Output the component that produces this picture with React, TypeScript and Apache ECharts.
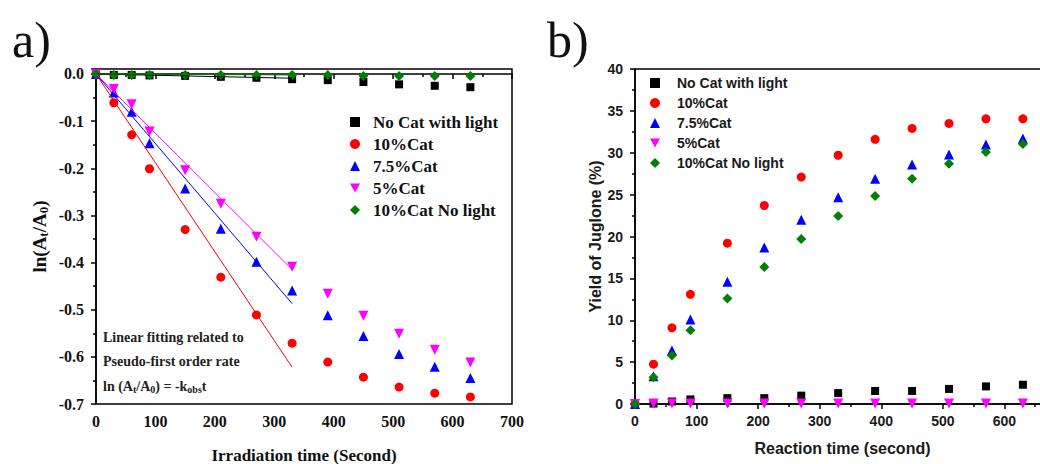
import React, { useEffect, useRef } from "react";
import * as echarts from "echarts";

// ---- Data ----
const times = [0, 30, 60, 90, 150, 210, 270, 330, 390, 450, 510, 570, 630];
const seriesNames = ["No Cat with light", "10%Cat", "7.5%Cat", "5%Cat", "10%Cat No light"];

// panel a: ln(At/A0)
const noCatA = [0, -0.002, -0.002, -0.003, -0.004, -0.006, -0.008, -0.011, -0.013, -0.017, -0.022, -0.025, -0.028];
const cat10A = [0, -0.061, -0.129, -0.201, -0.33, -0.431, -0.511, -0.571, -0.611, -0.643, -0.664, -0.677, -0.685];
const cat75A = [0, -0.039, -0.08, -0.147, -0.243, -0.328, -0.398, -0.459, -0.512, -0.556, -0.594, -0.621, -0.645];
const cat5A = [0, -0.032, -0.064, -0.122, -0.204, -0.275, -0.345, -0.409, -0.466, -0.513, -0.551, -0.585, -0.612];
const noLightA = [0, -0.002, -0.002, -0.002, -0.002, -0.002, -0.002, -0.002, -0.002, -0.004, -0.004, -0.004, -0.004];

// linear fits (panel a)
const fitX = [0, 330];
const fitNoCat = [0, -0.009];
const fit10 = [0, -0.622];
const fit75 = [0, -0.487];
const fit5 = [0, -0.415];
const fitNoLight = [0, -0.002];

// panel b: yield of juglone (%)
const noCatB = [0, 0.05, 0.3, 0.55, 0.7, 0.7, 1.0, 1.3, 1.55, 1.55, 1.8, 2.1, 2.3];
const cat10B = [0, 4.75, 9.1, 13.1, 19.2, 23.7, 27.1, 29.7, 31.6, 32.9, 33.5, 34.05, 34.05];
const cat75B = [0, 3.3, 6.4, 10.1, 14.6, 18.7, 22.0, 24.7, 26.9, 28.6, 29.8, 31.0, 31.7];
const cat5B = [0, 0.05, 0.05, 0.05, 0.05, 0.05, 0.05, 0.05, 0.05, 0.05, 0.05, 0.05, 0.05];
const noLightB = [0, 3.2, 5.8, 8.8, 12.6, 16.35, 19.7, 22.45, 24.85, 26.9, 28.7, 30.1, 31.05];

// ---- Styles ----
const serif = "'Liberation Serif', 'Times New Roman', serif";
const sans = "'Liberation Sans', Arial, sans-serif";
const colors = ["#000000", "#ff0000", "#0000ff", "#ff00ff", "#008000"];
const downTri = "path://M0,0L10,0L5,9Z";
const symbols = ["rect", "circle", "triangle", downTri, "diamond"];
const sizes = [8, 9, 10, 10, 10];

const pairs = (xs: number[], ys: number[]) => xs.map((x, i) => [x, ys[i]]);

export default function App() {
  const ref = useRef<HTMLDivElement>(null);

  useEffect(() => {
    if (!ref.current) return;
    const chart = echarts.init(ref.current, null, { renderer: "svg" });

    const dataA = [noCatA, cat10A, cat75A, cat5A, noLightA];
    const dataB = [noCatB, cat10B, cat75B, cat5B, noLightB];
    const fits = [fitNoCat, fit10, fit75, fit5, fitNoLight];

    const scatterA = dataA.map((d, i) => ({
      name: seriesNames[i],
      type: "scatter",
      xAxisIndex: 0,
      yAxisIndex: 0,
      data: pairs(times, d),
      symbol: symbols[i],
      symbolSize: sizes[i],
      itemStyle: { color: colors[i], opacity: 1 },
      z: 3,
    }));
    const fitLines = fits.map((d, i) => ({
      name: "fit" + i,
      type: "line",
      xAxisIndex: 0,
      yAxisIndex: 0,
      data: pairs(fitX, d),
      symbol: "none",
      lineStyle: { color: colors[i], width: 1 },
      z: 4,
    }));
    const scatterB = dataB.map((d, i) => ({
      name: seriesNames[i],
      type: "scatter",
      xAxisIndex: 1,
      yAxisIndex: 1,
      data: pairs(times, d),
      symbol: symbols[i],
      symbolSize: sizes[i],
      itemStyle: { color: colors[i], opacity: 1 },
      z: 3,
    }));

    const axisLine = { lineStyle: { color: "#000", width: 1.5 } };
    const tick = { length: 5, lineStyle: { color: "#000", width: 1.5 } };
    const minor = { show: true, splitNumber: 2, length: 3, lineStyle: { color: "#000", width: 1.5 } };
    const labA = { fontFamily: serif, fontWeight: "bold", fontSize: 16, color: "#111" };
    const labB = { fontFamily: sans, fontWeight: "bold", fontSize: 14, color: "#1a1a1a" };

    chart.setOption({
      animation: false,
      backgroundColor: "#ffffff",
      grid: [
        { left: 96, top: 69, width: 416, height: 335, outerBoundsMode: "none", containLabel: false, show: true, borderColor: "#000", borderWidth: 1.5, backgroundColor: "transparent" },
        { left: 635, top: 69, width: 431, height: 335, outerBoundsMode: "none", containLabel: false, show: true, borderColor: "#000", borderWidth: 1.5, backgroundColor: "transparent" },
      ],
      xAxis: [
        {
          type: "value", gridIndex: 0, min: 0, max: 700, interval: 100,
          axisLine, axisTick: tick, minorTick: minor, splitLine: { show: false },
          axisLabel: { ...labA, margin: 9 },
          name: "Irradiation time (Second)", nameLocation: "middle", nameGap: 43,
          nameTextStyle: { fontFamily: serif, fontWeight: "bold", fontSize: 17, lineHeight: 17, color: "#111" },
        },
        {
          type: "value", gridIndex: 1, min: 0, max: 700, interval: 100,
          axisLine, axisTick: tick, minorTick: minor, splitLine: { show: false },
          axisLabel: { ...labB, margin: 10, showMaxLabel: false },
          name: "Reaction time (second)", nameLocation: "middle", nameGap: 36,
          nameTextStyle: { fontFamily: sans, fontWeight: "bold", fontSize: 16, color: "#1a1a1a", padding: [0, 16, 0, 0] },
        },
      ],
      yAxis: [
        {
          type: "value", gridIndex: 0, min: -0.7, max: 0.0106, interval: 0.1,
          axisLine, axisTick: tick, minorTick: minor, splitLine: { show: false },
          axisLabel: { ...labA, margin: 12, showMaxLabel: false, formatter: (v: number) => v.toFixed(1) },
          name: "{n|ln(A}{s|t}{n|/A}{s|0}{n|)}", nameLocation: "middle", nameGap: 46, nameRotate: 90,
          nameTextStyle: {
            fontFamily: serif, fontWeight: "bold", fontSize: 19, color: "#111",
            rich: {
              n: { fontFamily: serif, fontWeight: "bold", fontSize: 19, lineHeight: 22, color: "#111" },
              s: { fontFamily: serif, fontWeight: "bold", fontSize: 13, lineHeight: 8, verticalAlign: "bottom", color: "#111" },
            },
          },
        },
        {
          type: "value", gridIndex: 1, min: 0, max: 40, interval: 5,
          axisLine, axisTick: tick, minorTick: minor, splitLine: { show: false },
          axisLabel: { ...labB, margin: 12 },
          name: "Yield of Juglone (%)", nameLocation: "middle", nameGap: 32, nameRotate: 90,
          nameTextStyle: { fontFamily: sans, fontWeight: "bold", fontSize: 16, color: "#1a1a1a" },
        },
      ],
      legend: [
        {
          left: 345, top: 107, orient: "vertical", itemWidth: 10, itemHeight: 10, itemGap: 2,
          selectedMode: false, data: seriesNames,
          textStyle: { fontFamily: serif, fontWeight: "bold", fontSize: 17, lineHeight: 20, color: "#111", padding: [0, 0, 0, 8] },
        },
        {
          left: 645, top: 69, orient: "vertical", itemWidth: 10, itemHeight: 10, itemGap: 2,
          selectedMode: false, data: seriesNames,
          textStyle: { fontFamily: sans, fontWeight: "bold", fontSize: 14, lineHeight: 18, color: "#1a1a1a", padding: [0, 0, 0, 12] },
        },
      ],
      graphic: [
        { type: "text", x: 12, y: 40, style: { text: "a)", fontFamily: serif, fontSize: 50, verticalAlign: "middle", fill: "#111" } },
        { type: "text", x: 547, y: 40, style: { text: "b)", fontFamily: serif, fontSize: 50, verticalAlign: "middle", fill: "#111" } },
        { type: "text", x: 103, y: 337, style: { text: "Linear fitting related to", fontFamily: serif, fontWeight: "bold", fontSize: 14, verticalAlign: "middle", fill: "#222" } },
        { type: "text", x: 103, y: 361, style: { text: "Pseudo-first order rate", fontFamily: serif, fontWeight: "bold", fontSize: 14, verticalAlign: "middle", fill: "#222" } },
        {
          type: "text", x: 103, y: 386,
          style: {
            text: "{n|ln (A}{s|t}{n|/A}{s|0}{n|) = -k}{s|obs}{n|t}",
            verticalAlign: "middle", fill: "#222",
            rich: {
              n: { fontFamily: serif, fontWeight: "bold", fontSize: 14, lineHeight: 16, fill: "#222" },
              s: { fontFamily: serif, fontWeight: "bold", fontSize: 10, lineHeight: 6, verticalAlign: "bottom", fill: "#222" },
            },
          },
        },
      ],
      series: [...scatterA, ...fitLines, ...scatterB],
    });

    return () => chart.dispose();
  }, []);

  return (
    <div style={{ position: "fixed", left: 0, top: 0, width: 1040, height: 464, overflow: "hidden", background: "#fff" }}>
      <div ref={ref} style={{ width: 1100, height: 464 }} />
    </div>
  );
}
